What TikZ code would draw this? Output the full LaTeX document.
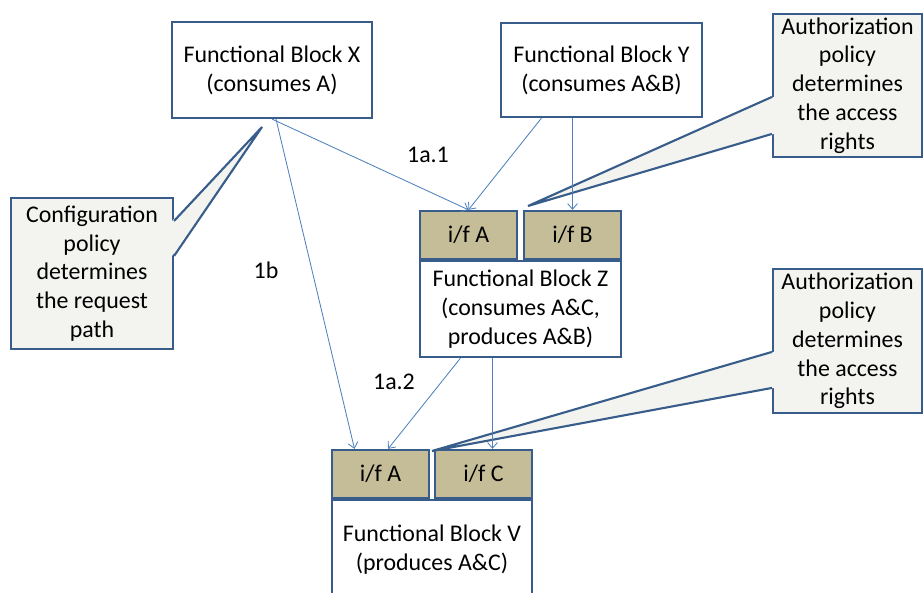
\documentclass[tikz,border=0pt]{standalone}
\usepackage{fontspec}
\setmainfont{Carlito}
\usepackage{tikz}
\usetikzlibrary{positioning, calc}
\usetikzlibrary{arrows.meta}
\definecolor{boxline}{RGB}{56,93,138}
\definecolor{flowline}{RGB}{79,129,189}
\definecolor{iffill}{RGB}{196,189,151}
\definecolor{notefill}{RGB}{243,243,240}
\tikzset{>={Straight Barb[length=4pt,width=7pt]}, % thin open arrow heads
every node/.style={font=\fontsize{17}{20.5}\selectfont, align=center}, % same text everywhere
block/.style={draw=boxline, line width=1.5pt, fill=white, inner sep=0pt}, % functional blocks
iface/.style={block, fill=iffill, minimum width=2.425cm, minimum height=1.2cm}, % the i/f boxes
note/.style={block, fill=notefill}, % policy callouts
flow/.style={->, draw=flowline, line width=0.6pt}, % request paths
pointer/.style={draw=boxline, line width=1.5pt, line join=miter}, % callout tails
}

\begin{document}
\begin{tikzpicture}[x=0.025cm, y=-0.025cm]
\useasboundingbox (0,0) rectangle (924,592);

\node[block, minimum width=5cm, minimum height=2.4cm] (blockx) at (272,70) {Functional Block X\\(consumes A)};
\node[block, minimum width=5.025cm, minimum height=2.35cm] (blocky) at (601.5,70) {Functional Block Y\\(consumes A\&B)};

\node[block, minimum width=5.025cm, minimum height=2.4cm] (zmain) at (520.5,309) {Functional Block Z\\(consumes A\&C,\\produces A\&B)};
\node[iface, above right=0cm and 0cm of zmain.north west] (zifa) {i/f A};
\node[iface, above left=0cm and 0cm of zmain.north east] (zifb) {i/f B};

\node[block, minimum width=5cm, minimum height=2.5cm] (vmain) at (432,550) {Functional Block V\\(produces A\&C)};
\node[iface, above right=0cm and 0cm of vmain.north west] (vifa) {i/f A};
\node[iface, above left=0cm and 0cm of vmain.north east] (vifc) {i/f C};

\node[note, minimum width=4.05cm, minimum height=3.775cm] (cfg) at (92,273.5) {Configuration\\policy\\determines\\the request\\path};
\node[note, minimum width=3.725cm, minimum height=3.575cm] (authz) at (847.5,85.5) {Authorization\\policy\\determines\\the access\\rights};
\node[note, minimum width=3.725cm, minimum height=3.6cm] (authv) at (847.5,341) {Authorization\\policy\\determines\\the access\\rights};

\coordinate (cfgtip) at (262,127);
\coordinate (authztip) at (528,206);
\coordinate (authvtip) at (432,451);

% callout tails
\fill[notefill] ($(cfg.north east)+(-2,24)$) -- (cfgtip) -- ($(cfg.north east)+(-2,59)$) -- cycle;
\draw[pointer] ($(cfg.north east)+(0,24)$) -- (cfgtip) -- ($(cfg.north east)+(0,59)$);
\fill[notefill] ($(authz.north west)+(2,84)$) -- (authztip) -- ($(authz.north west)+(2,121)$) -- cycle;
\draw[pointer] ($(authz.north west)+(0,84)$) -- (authztip) -- ($(authz.north west)+(0,121)$);
\fill[notefill] ($(authv.north west)+(2,84)$) -- (authvtip) -- ($(authv.north west)+(2,120)$) -- cycle;
\draw[pointer] ($(authv.north west)+(0,84)$) -- (authvtip) -- ($(authv.north west)+(0,120)$);

% request paths
\draw[flow] (blockx.south) -- (zifa.north);
\draw[flow] ([xshift=-1.5cm]blocky.south) -- (zifa.north);
\draw[flow] (blocky.south -| zifb.north) -- (zifb.north);
\draw[flow] ([xshift=0.1cm]blockx.south) -- ([xshift=-0.65cm]vifa.north);
\draw[flow] ([xshift=-1.5cm]zmain.south) -- ([xshift=0.19cm]vifa.north);
\draw[flow] ([xshift=-0.7cm]zmain.south) -- ([xshift=0.225cm]vifc.north);

\node (l1a1) at (428,155) {1a.1};
\node (l1b) at (266,270) {1b};
\node (l1a2) at (394,382) {1a.2};

\end{tikzpicture}
\end{document}
